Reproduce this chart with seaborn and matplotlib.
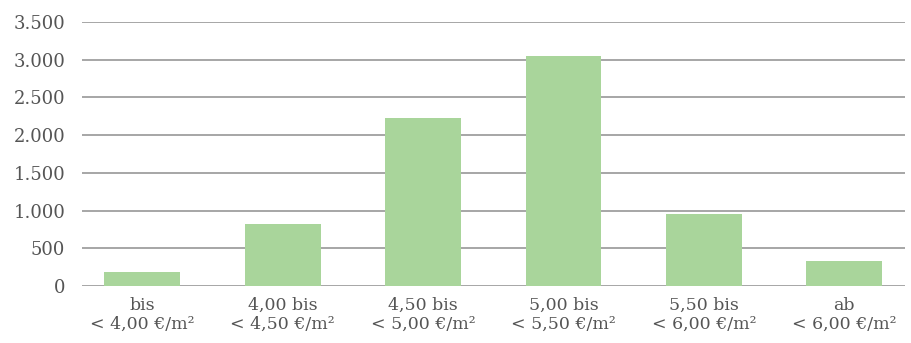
import matplotlib
matplotlib.use("Agg")
import matplotlib.pyplot as plt
import seaborn as sns
import pandas as pd
from matplotlib.ticker import FuncFormatter

# categories and counts
categories = [
    "bis\n< 4,00 €/m²",
    "4,00 bis\n< 4,50 €/m²",
    "4,50 bis\n< 5,00 €/m²",
    "5,00 bis\n< 5,50 €/m²",
    "5,50 bis\n< 6,00 €/m²",
    "ab\n< 6,00 €/m²",
]
counts = [186, 822, 2227, 3049, 955, 331]
yticks = [0, 500, 1000, 1500, 2000, 2500, 3000, 3500]

df = pd.DataFrame({"cat": categories, "n": counts})

sns.set_style("white")
plt.rcParams["font.family"] = ["DejaVu Serif"]

text_col = "#555555"
grid_col = "#a6a6a6"
bar_col = "#a9d59b"

fig = plt.figure(figsize=(9.11, 3.43), dpi=100)
ax = fig.add_axes([0.090, 0.166, 0.903, 0.770])

sns.barplot(data=df, x="cat", y="n", color=bar_col, saturation=1,
            width=0.54, edgecolor="none", linewidth=0, ax=ax)

ax.set_ylim(0, 3500)
ax.set_xlim(-0.43, 5.43)
ax.set_yticks(yticks)
ax.yaxis.set_major_formatter(FuncFormatter(lambda v, p: f"{int(v):,}".replace(",", ".")))
ax.yaxis.grid(True, color=grid_col, linewidth=1.4)
ax.set_axisbelow(True)
for s in ax.spines.values():
    s.set_visible(False)

ax.tick_params(axis="y", length=0, pad=12, labelsize=13, labelcolor=text_col)
ax.tick_params(axis="x", length=0, pad=8, labelsize=12.5, labelcolor=text_col)
for lbl in ax.get_xticklabels():
    lbl.set_linespacing(1.1)

ax.set_xlabel("")
ax.set_ylabel("")

fig.savefig("out.png", dpi=100)
